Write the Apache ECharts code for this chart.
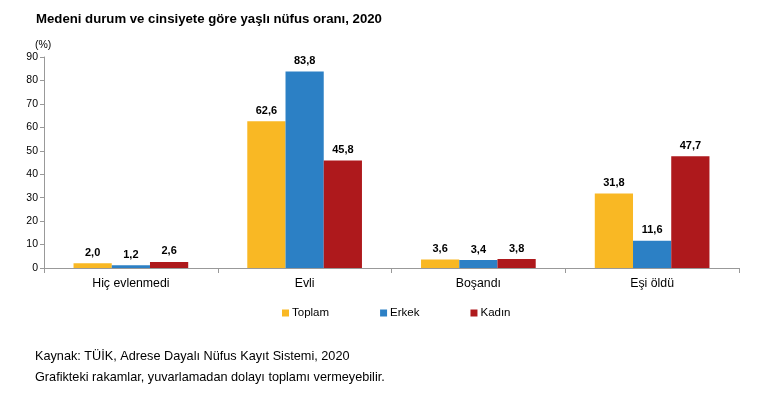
<!DOCTYPE html>
<html>
<head>
<meta charset="utf-8">
<script src="https://cdn.jsdelivr.net/npm/echarts@6/dist/echarts.min.js"></script>
<style>
html,body{margin:0;padding:0;background:#fff;}
#c{width:779px;height:395px;}
</style>
</head>
<body>
<div id="c"></div>
<script>
const categories = ['Hiç evlenmedi', 'Evli', 'Boşandı', 'Eşi öldü'];
const toplam = [2.0, 62.6, 3.6, 31.8];
const erkek = [1.2, 83.8, 3.4, 11.6];
const kadin = [2.6, 45.8, 3.8, 47.7];
const yTicks = [0, 10, 20, 30, 40, 50, 60, 70, 80, 90];

const font = 'Liberation Sans, Arial, sans-serif';
const fmt = p => p.value.toFixed(1).replace('.', ',');
const label = {show: true, position: 'top', distance: 5, formatter: fmt,
  fontFamily: font, fontSize: 11, fontWeight: 'bold', color: '#000'};

const chart = echarts.init(document.getElementById('c'));
chart.setOption({
  animation: false,
  backgroundColor: '#fff',
  title: [{
    text: 'Medeni durum ve cinsiyete göre yaşlı nüfus oranı, 2020',
    left: 31, top: 8,
    textStyle: {fontFamily: font, fontSize: 13.2, fontWeight: 'bold', color: '#000'}
  }, {
    text: '(%)', left: 30, top: 35,
    textStyle: {fontFamily: font, fontSize: 10.5, fontWeight: 'normal', color: '#000'}
  }, {
    text: 'Kaynak: TÜİK, Adrese Dayalı Nüfus Kayıt Sistemi, 2020\nGrafikteki rakamlar, yuvarlamadan dolayı toplamı vermeyebilir.',
    left: 30, top: 341,
    textStyle: {fontFamily: font, fontSize: 12.7, fontWeight: 'normal', color: '#000', lineHeight: 21}
  }],
  legend: {
    data: ['Toplam', 'Erkek', 'Kadın'],
    left: 277, top: 302,
    icon: 'rect', itemWidth: 7, itemHeight: 7, itemGap: 51,
    textStyle: {fontFamily: font, fontSize: 11.5, color: '#000', padding: [0, 0, 0, -2]}
  },
  grid: {left: 44, right: 40, top: 57, bottom: 127, containLabel: false},
  xAxis: {
    type: 'category', data: categories,
    axisLine: {lineStyle: {color: '#999'}},
    axisTick: {show: true, length: 5, lineStyle: {color: '#999'}},
    axisLabel: {fontFamily: font, fontSize: 12.3, color: '#000', margin: 10}
  },
  yAxis: {
    type: 'value', min: 0, max: 90, interval: 10,
    axisLine: {show: true, lineStyle: {color: '#999'}},
    axisTick: {show: true, length: 4, lineStyle: {color: '#999'}},
    splitLine: {show: false},
    axisLabel: {fontFamily: font, fontSize: 10.5, color: '#000', margin: 6,
      formatter: v => yTicks.includes(v) ? String(v) : ''}
  },
  series: [
    {name: 'Toplam', type: 'bar', data: toplam, itemStyle: {color: '#F9B824'},
     barGap: '0%', barCategoryGap: '34%', label},
    {name: 'Erkek', type: 'bar', data: erkek, itemStyle: {color: '#2C80C5'},
     barGap: '0%', barCategoryGap: '34%', label},
    {name: 'Kadın', type: 'bar', data: kadin, itemStyle: {color: '#AE191C'},
     barGap: '0%', barCategoryGap: '34%', label}
  ]
});
</script>
</body>
</html>
